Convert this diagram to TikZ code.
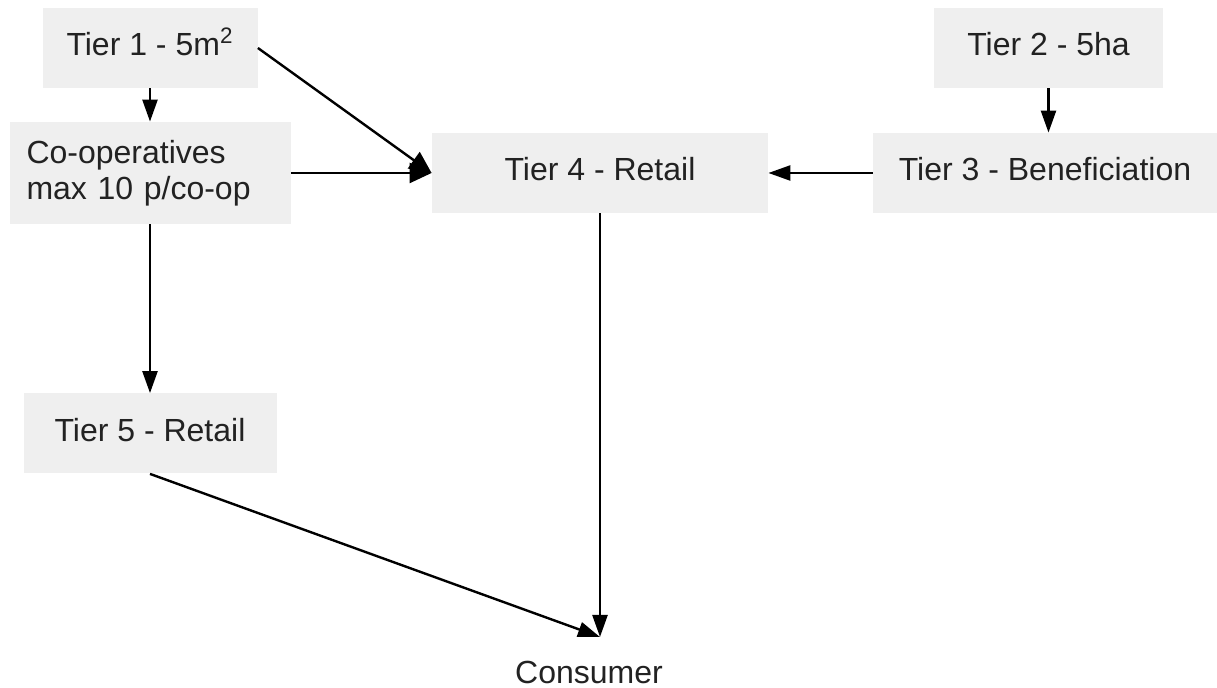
\documentclass[tikz,border=0pt]{standalone}
\usepackage{fontspec}
\setmainfont{Liberation Sans}
\usetikzlibrary{arrows.meta, positioning}
\definecolor{boxfill}{RGB}{239,239,239}
\definecolor{ink}{RGB}{34,34,34}
\tikzset{
  tier/.style={rectangle, fill=boxfill, text=ink, align=center,
               minimum height=40pt, inner sep=0pt, text height=12pt, text depth=4pt,
               font=\fontsize{16}{18}\selectfont},
  arrow/.style={-{Triangle[length=11pt, width=7.5pt]}, line width=1.2pt, color=black},
  bigarrow/.style={-{Triangle[length=11pt, width=10pt]}, line width=1.2pt, color=black},
}
\begin{document}
\begin{tikzpicture}[x=0.5pt, y=-0.5pt]
    \useasboundingbox (0,0) rectangle (1217,688);
    \node[tier, minimum width=107.5pt] (t1) at (150,48) {Tier 1 - 5m\textsuperscript{2}};
    \node[rectangle, fill=boxfill, text=ink, minimum width=140.5pt, minimum height=51pt,
          text width=123.5pt, inner xsep=8.5pt, inner ysep=0pt, align=left,
          font=\fontsize{16}{18}\selectfont] (coop) at (150,173)
          {Co-operatives\\max 10 p/co-op};
    \node[tier, minimum width=168pt] (t4) at (600,173) {Tier 4 - Retail};
    \node[tier, minimum width=114.5pt] (t2) at (1048.5,48) {Tier 2 - 5ha};
    \node[tier, minimum width=172pt] (t3) at (1045,173) {Tier 3 - Beneficiation};
    \node[tier, minimum width=126.5pt] (t5) at (150,433.5) {Tier 5 - Retail};
    \node[anchor=north, text=ink, inner sep=0pt,
          font=\fontsize{16}{18}\selectfont] (cons) at (589,661) {Consumer};
    \coordinate (meet) at (600,637);

    \draw[arrow] (t1.south) -- (coop.north);
    \draw[bigarrow] (t1.east) -- (t4.west);
    \draw[bigarrow] (coop.east) -- (t4.west);
    \draw[arrow] (t3.west) -- (t4.east);
    \draw[arrow] (t2.south) -- (t2.south |- t3.north);
    \draw[arrow] (coop.south) -- (t5.north);
    \draw[arrow] (t4.south) -- (meet);
    \draw[arrow] (t5.south) -- (meet);
\end{tikzpicture}
\end{document}
